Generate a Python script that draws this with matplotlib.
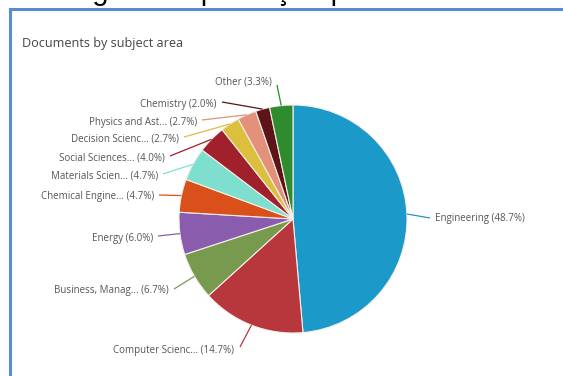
import numpy as np
import matplotlib.pyplot as plt
from matplotlib.lines import Line2D

# Scopus "Documents by subject area" breakdown
subjects = ["Engineering", "Computer Scienc...", "Business, Manag...", "Energy",
            "Chemical Engine...", "Materials Scien...", "Social Sciences...",
            "Decision Scienc...", "Physics and Ast...", "Chemistry", "Other"]
shares = [48.7, 14.7, 6.7, 6.0, 4.7, 4.7, 4.0, 2.7, 2.7, 2.0, 3.3]
colors = ["#1b99c9", "#b8373d", "#789a4f", "#8a5cae", "#d9501a", "#7fdfcf",
          "#a0202b", "#dcbf3c", "#e3917a", "#5c1418", "#2e8b2e"]

W, H = 563, 376
fig = plt.figure(figsize=(W / 100, H / 100), dpi=100)
ax = fig.add_axes([0, 0, 1, 1])
ax.set_xlim(0, W)
ax.set_ylim(0, H)
ax.set_aspect("equal")
ax.axis("off")

def Y(y):
    # layout values are measured from the top edge
    return H - y

# caption of the document, cut by the top edge
fig.text(0.45, 1 - 0.5 / H, "Figura 4 - produção por área", ha="center",
         va="baseline", fontsize=21, family="Liberation Sans", color="black")

# frame around the chart
ax.add_line(Line2D([10, W + 5], [Y(9), Y(9)], color="#5a8ad4", lw=2.2))
ax.add_line(Line2D([10, 10], [Y(9), -5], color="#5a8ad4", lw=2.2))

ax.text(22, Y(43), "Documents by subject area", ha="left", va="center",
        fontsize=9.1, family="Open Sans", color="#444444")

cx, cy, r = 293, Y(219), 114
wedges, _ = ax.pie(shares, colors=colors, startangle=90, counterclock=False,
                   center=(cx, cy), radius=r, frame=True,
                   wedgeprops=dict(edgecolor="#f4efe8", linewidth=0.8))
ax.set_xlim(0, W)
ax.set_ylim(0, H)
ax.axis("off")

# where each leader line ends and the label sits (x, y from the top)
label_pos = [(430, 218), (240, 347), (174, 289), (158, 236), (159, 195),
             (163, 174), (170, 156), (184, 137), (202, 120), (222, 102),
             (277, 85)]

label_kw = dict(va="center", fontsize=7, family="Open Sans", color="#555555")
for w, name, s, (lx, ly) in zip(wedges, subjects, shares, label_pos):
    mid = np.deg2rad((w.theta1 + w.theta2) / 2)
    ex, ey = cx + r * np.cos(mid), cy + r * np.sin(mid)
    ax.plot([ex, lx], [ey, Y(ly)], color=w.get_facecolor(), lw=0.9,
            solid_capstyle="butt")
    text = f"{name} ({s:.1f}%)"
    if lx > cx:
        ax.text(lx + 5, Y(ly), text, ha="left", **label_kw)
    elif name == "Other":
        ax.text(lx - 5, Y(ly) + 3, text, ha="right", **label_kw)
    elif name.startswith("Computer"):
        ax.text(lx - 6, Y(ly) - 3, text, ha="right", **label_kw)
    else:
        ax.text(lx - 5, Y(ly) - 2, text, ha="right", **label_kw)

fig.savefig("out.png", dpi=100)
